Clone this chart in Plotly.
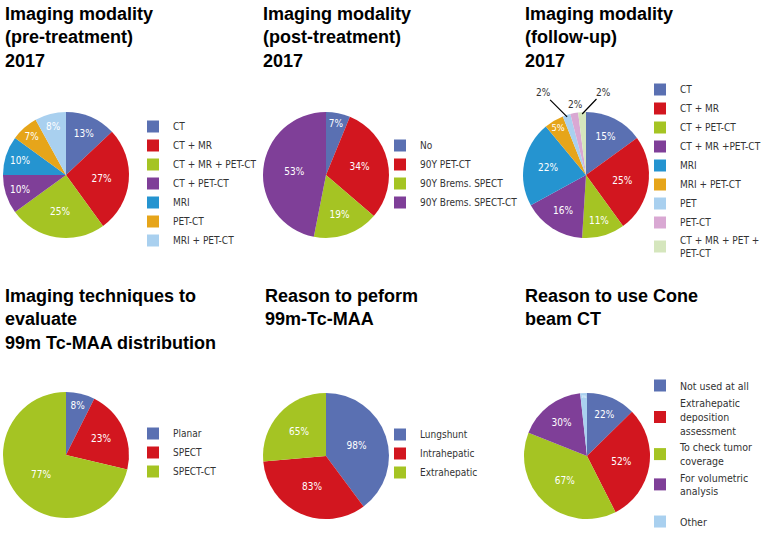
import math
import plotly.graph_objects as go

# --- data ---
pre_labels = ["CT", "CT + MR", "CT + MR + PET-CT", "CT + PET-CT", "MRI", "PET-CT", "MRI + PET-CT"]
pre_values = [13, 27, 25, 10, 10, 7, 8]

post_labels = ["No", "90Y PET-CT", "90Y Brems. SPECT", "90Y Brems. SPECT-CT"]
post_values = [7, 34, 19, 53]

fu_labels = ["CT", "CT + MR", "CT + PET-CT", "CT + MR +PET-CT", "MRI", "MRI + PET-CT",
             "PET", "PET-CT", "CT + MR + PET +<br>PET-CT"]
fu_values = [15, 25, 11, 16, 22, 5, 2, 2, 2]

maa_tech_labels = ["Planar", "SPECT", "SPECT-CT"]
maa_tech_values = [8, 23, 77]

maa_reason_labels = ["Lungshunt", "Intrahepatic", "Extrahepatic"]
maa_reason_values = [98, 83, 65]

cbct_labels = ["Not used at all", "Extrahepatic<br>deposition<br>assessment",
               "To check tumor<br>coverage", "For volumetric<br>analysis",
               "\u00a0<br>Other<br>\u00a0"]
cbct_values = [22, 52, 67, 30, 3]

titles = [
    "Imaging modality<br>(pre-treatment)<br>2017",
    "Imaging modality<br>(post-treatment)<br>2017",
    "Imaging modality<br>(follow-up)<br>2017",
    "Imaging techniques to<br>evaluate<br>99m Tc-MAA distribution",
    "Reason to peform<br>99m-Tc-MAA",
    "Reason to use Cone<br>beam CT",
]

BLUE = "#5a70b2"
RED = "#d2161f"
GREEN = "#a5c423"
PURPLE = "#7f3f98"
CYAN = "#2594d0"
ORANGE = "#e6a51a"
LIGHTBLUE = "#a9d0ef"
PINK = "#d9a8d3"
PALEGREEN = "#d5e6bd"

W, H = 761, 540
NARROW = "Liberation Sans Narrow, Arial Narrow, DejaVu Sans Condensed, sans-serif"


def px_x(v):
    return v / W


def px_y(v):
    return 1 - v / H


panels = [
    dict(labels=pre_labels, values=pre_values,
         colors=[BLUE, RED, GREEN, PURPLE, CYAN, ORANGE, LIGHTBLUE],
         box=(3, 129, 112, 238), leg=(133, 112), title=(3, 2), legfont=10),
    dict(labels=post_labels, values=post_values,
         colors=[BLUE, RED, GREEN, PURPLE],
         box=(263, 389, 112, 238), leg=(380, 131), title=(261, 2), legfont=10),
    dict(labels=fu_labels, values=fu_values,
         colors=[BLUE, RED, GREEN, PURPLE, CYAN, ORANGE, LIGHTBLUE, PINK, PALEGREEN],
         box=(522, 650, 112, 238), leg=(640, 75), title=(523, 2), legfont=10),
    dict(labels=maa_tech_labels, values=maa_tech_values,
         colors=[BLUE, RED, GREEN],
         box=(3, 129, 392, 518), leg=(133, 419), title=(3, 284), legfont=10),
    dict(labels=maa_reason_labels, values=maa_reason_values,
         colors=[BLUE, RED, GREEN],
         box=(263, 389, 393, 519), leg=(380, 420), title=(263, 284), legfont=10),
    dict(labels=cbct_labels, values=cbct_values,
         colors=[BLUE, RED, GREEN, PURPLE, LIGHTBLUE],
         box=(523, 651, 393, 519), leg=(640, 371), title=(523, 284), legfont=10.5),
]

# label offsets (px) for the small follow-up slices, drawn with leader lines
small_offsets = {6: (-24, -24), 7: (1, -10), 8: (21, -22)}

fig = go.Figure()
layout_extra = {}
annotations = []

for i, p in enumerate(panels):
    leg_name = "legend" if i == 0 else f"legend{i + 1}"
    x0, x1, y0, y1 = p["box"]
    small = [v <= 2 for v in p["values"]]
    # zero-width suffix keeps equal labels of different pies apart in the legends
    labels = [lab + "\u200b" * i for lab in p["labels"]]
    fig.add_trace(go.Pie(
        labels=labels,
        values=p["values"],
        text=["" if s else f"{v}%" for v, s in zip(p["values"], small)],
        textinfo="text",
        textposition=["none" if s else "inside" for s in small],
        insidetextorientation="horizontal",
        insidetextfont=dict(color="white", size=10, family=NARROW),
        marker=dict(colors=p["colors"], line=dict(width=0)),
        sort=False,
        direction="clockwise",
        rotation=0,
        domain=dict(x=[px_x(x0), px_x(x1)], y=[px_y(y1), px_y(y0)]),
        hoverinfo="label+percent",
        legend=leg_name,
    ))

    # outside labels for tiny slices, placed from the slice mid-angle
    if any(small):
        cx, cy = (x0 + x1) / 2, (y0 + y1) / 2
        r = min(x1 - x0, y1 - y0) / 2
        total = sum(p["values"])
        cum = 0
        for k, v in enumerate(p["values"]):
            mid = (cum + v / 2) / total * 2 * math.pi
            cum += v
            if not small[k]:
                continue
            ax, ay = small_offsets.get(k, (0, -15))
            line = abs(ax) > 5
            annotations.append(dict(
                text=f"{v}%", x=px_x(cx + 0.97 * r * math.sin(mid)),
                y=px_y(cy - 0.97 * r * math.cos(mid)),
                xref="paper", yref="paper", ax=ax, ay=ay,
                showarrow=True, arrowhead=0, arrowwidth=1.2,
                arrowcolor="black" if line else "rgba(0,0,0,0)",
                standoff=0, startstandoff=0,
                font=dict(size=10, family=NARROW, color="#333333"),
            ))

    lx, ly = p["leg"]
    layout_extra[leg_name] = dict(
        x=px_x(lx), y=px_y(ly), xanchor="left", yanchor="top",
        font=dict(size=p["legfont"], family=NARROW, color="#333333"),
        bgcolor="rgba(0,0,0,0)", itemclick=False, maxheight=400,
    )
    tx, ty = p["title"]
    annotations.append(dict(
        text=f"<b>{titles[i]}</b>", x=px_x(tx), y=px_y(ty),
        xref="paper", yref="paper", xanchor="left", yanchor="top",
        align="left", showarrow=False,
        font=dict(size=18, family="Liberation Sans, Arial, sans-serif", color="black"),
    ))

fig.update_layout(
    width=W, height=H,
    margin=dict(l=0, r=0, t=0, b=0, autoexpand=False),
    paper_bgcolor="white",
    plot_bgcolor="white",
    annotations=annotations,
    showlegend=True,
    **layout_extra,
)

fig.write_html("out.html", config={"displayModeBar": False},
               post_script="document.body.style.margin = '0';")
